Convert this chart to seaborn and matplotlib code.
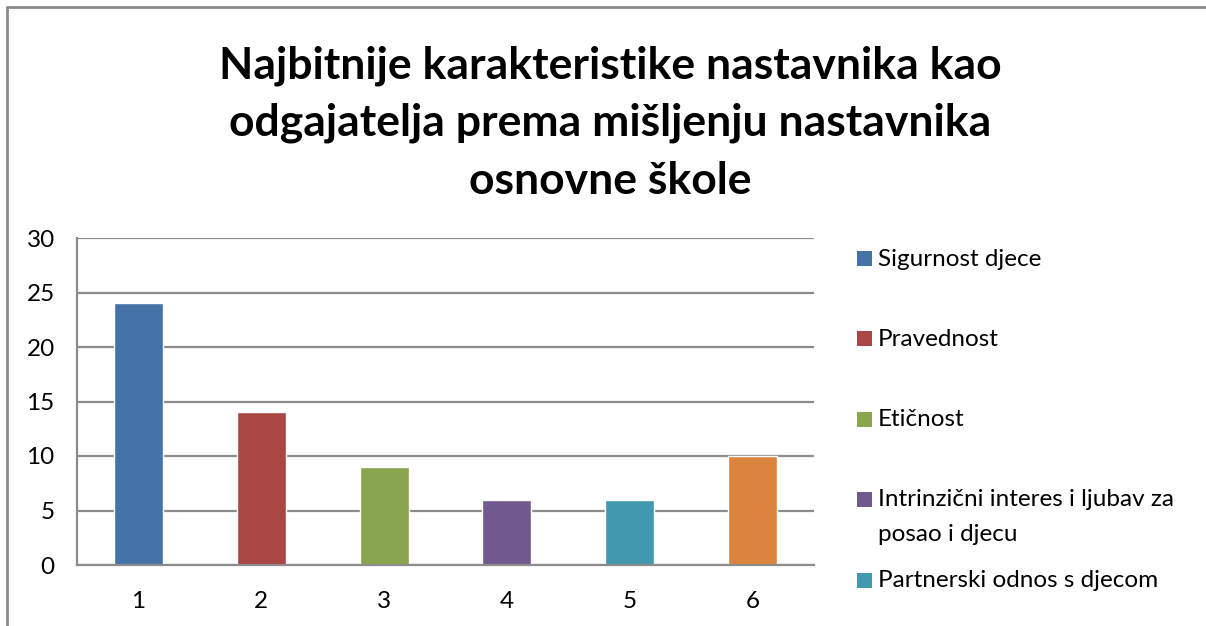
import matplotlib
matplotlib.use("Agg")
import matplotlib.pyplot as plt
import seaborn as sns
from matplotlib.patches import Rectangle
from matplotlib.lines import Line2D

categories = ["1", "2", "3", "4", "5", "6"]
values = [24, 14, 9, 6, 6, 10]
colors = ["#4572A7", "#AA4643", "#89A54E", "#71588F", "#4198AF", "#DB843D"]
legend_labels = ["Sigurnost djece", "Pravednost", "Etičnost",
                 "Intrinzični interes i ljubav za\nposao i djecu",
                 "Partnerski odnos s djecom"]
yticks = [0, 5, 10, 15, 20, 25, 30]
title = "Najbitnije karakteristike nastavnika kao\nodgajatelja prema mišljenju nastavnika\nosnovne škole"

sns.set_theme(style="white")
plt.rcParams["font.family"] = ["Lato", "DejaVu Sans"]

W, H = 1206, 626
fig = plt.figure(figsize=(W / 100, H / 100), dpi=100)
fig.patch.set_facecolor("white")

def fx(px):
    return px / W

def fy(py):
    return 1 - py / H

ax = fig.add_axes([fx(77), fy(565), (814 - 77) / W, (565 - 238) / H])
sns.barplot(x=categories, y=values, hue=categories, palette=colors,
            width=0.4, legend=False, ax=ax, saturation=1)

ax.set_ylim(0, 30)
ax.set_yticks(yticks)
ax.set_yticklabels([str(t) for t in yticks], fontsize=17.5, color="black")
ax.tick_params(axis="x", labelsize=17.5, colors="black", length=0, pad=19)
ax.tick_params(axis="y", length=0, pad=16)
ax.set_xlabel("")
ax.set_ylabel("")
ax.yaxis.grid(True, color="#8C8C8C", linewidth=1.6)
ax.set_axisbelow(True)
for s in ["top", "right"]:
    ax.spines[s].set_visible(False)
for s in ["left", "bottom"]:
    ax.spines[s].set_color("#8C8C8C")
    ax.spines[s].set_linewidth(1.6)

fig.text(fx(610), fy(123), title, ha="center", va="center",
         fontsize=32, fontweight="bold", linespacing=1.53, color="black")

# Legend (manual, Excel style)
entry_y = [259, 339, 419, 499, 580]
for lab, col, yy in zip(legend_labels, colors[:5], entry_y):
    fig.add_artist(Rectangle((fx(857), fy(yy + 7.5)), 15 / W, 15 / H,
                             transform=fig.transFigure, facecolor=col,
                             edgecolor="none"))
    fig.text(fx(878), fy(yy - 10), lab, ha="left", va="top", fontsize=17.5,
             linespacing=1.8, color="black")

# Chart frame
fig.add_artist(Line2D([fx(7), fx(7)], [fy(7), 0], transform=fig.transFigure,
                      color="#8C8C8C", linewidth=2))
fig.add_artist(Line2D([fx(7), 1], [fy(7), fy(7)], transform=fig.transFigure,
                      color="#8C8C8C", linewidth=2))

fig.savefig("out.png", dpi=100)
